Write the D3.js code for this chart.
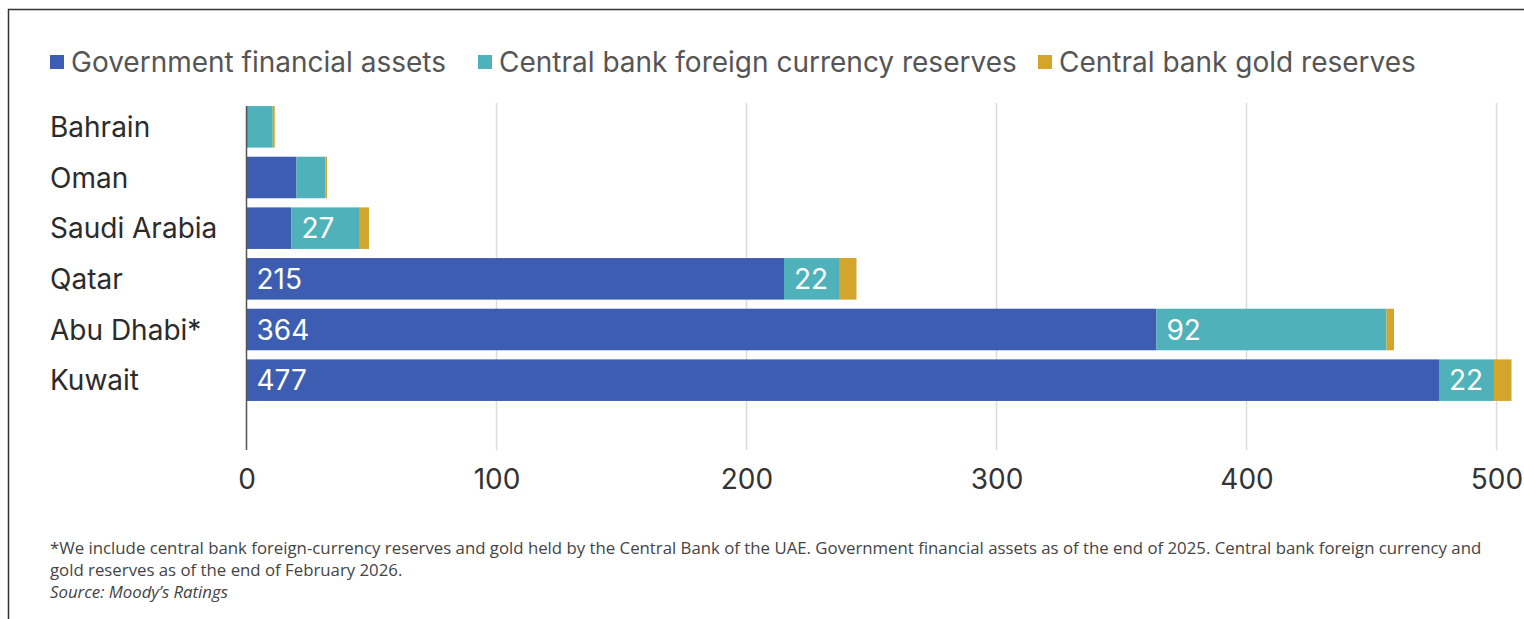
<!DOCTYPE html>
<html>
<head>
<meta charset="utf-8">
<script src="https://cdn.jsdelivr.net/npm/d3@7"></script>
<style>
  body { margin: 0; background: #fff; }
  svg { display: block; }
</style>
</head>
<body>
<div id="chart-area"></div>
<script>
// Data (USD billions)
const countries = ["Bahrain", "Oman", "Saudi Arabia", "Qatar", "Abu Dhabi*", "Kuwait"];
const govAssets = [0.5, 20, 18, 215, 364, 477];
const fxReserves = [10, 11.5, 27, 22, 92, 22];
const goldReserves = [0.8, 0.7, 4, 7, 3, 7];
const seriesNames = ["Government financial assets", "Central bank foreign currency reserves", "Central bank gold reserves"];
const tickValues = [0, 100, 200, 300, 400, 500];
const footnotes = [
  "*We include central bank foreign-currency reserves and gold held by the Central Bank of the UAE. Government financial assets as of the end of 2025. Central bank foreign currency and",
  "gold reserves as of the end of February 2026."
];
const sourceText = "Source: Moody\u2019s Ratings";

const colors = ["#3c5db1", "#4fb2bb", "#d3a52a"];
const W = 1524, H = 619;
const labelFont = "Inter, 'Noto Sans', sans-serif";

const svg = d3.select("#chart-area").append("svg")
  .attr("width", W)
  .attr("height", H);

// frame (top + left rules)
svg.append("path")
  .attr("d", "M8.5," + H + " V9.5 H" + W)
  .attr("fill", "none")
  .attr("stroke", "#333")
  .attr("stroke-width", 1.5);

// scales
const x = d3.scaleLinear().domain([0, 500]).range([246.5, 1496.5]);
const y = d3.scaleBand().domain(countries).range([101.5, 405.5])
  .paddingInner(0.18).paddingOuter(0.09);

// rows for the stack
const rows = countries.map((c, i) => ({
  country: c,
  gov: govAssets[i],
  fx: fxReserves[i],
  gold: goldReserves[i]
}));
const keys = ["gov", "fx", "gold"];
const stacked = d3.stack().keys(keys)(rows);

// grid
const gridTop = 103, gridBottom = 450;
svg.append("g")
  .selectAll("line")
  .data(tickValues.slice(1))
  .join("line")
    .attr("x1", d => x(d)).attr("x2", d => x(d))
    .attr("y1", gridTop).attr("y2", gridBottom)
    .attr("stroke", "#dcdcdc")
    .attr("stroke-width", 1.5);

// x axis labels
const xAxis = d3.axisBottom(x).tickValues(tickValues).tickSize(0).tickPadding(0);
const xAxisGroup = svg.append("g")
  .attr("transform", "translate(0," + 469 + ")")
  .call(xAxis);
xAxisGroup.select(".domain").remove();
xAxisGroup.selectAll("text")
  .attr("dy", "0.71em")
  .attr("font-family", labelFont)
  .attr("font-size", "28px")
  .attr("fill", "#333");

// bars
const layer = svg.append("g")
  .selectAll("g")
  .data(stacked)
  .join("g")
    .attr("fill", (d, i) => colors[i]);

layer.selectAll("rect")
  .data(d => d)
  .join("rect")
    .attr("x", d => x(d[0]))
    .attr("y", d => y(d.data.country))
    .attr("width", d => x(d[1]) - x(d[0]))
    .attr("height", y.bandwidth());

// value labels inside big segments
layer.selectAll("text")
  .data(d => d.filter(s => s[1] - s[0] >= 21))
  .join("text")
    .attr("x", d => x(d[0]) + 10)
    .attr("y", d => y(d.data.country) + y.bandwidth() / 2)
    .attr("dy", "0.36em")
    .attr("fill", "#fff")
    .attr("font-family", labelFont)
    .attr("font-size", "28px")
    .text(d => Math.round(d[1] - d[0]));

// y axis line
svg.append("line")
  .attr("x1", x(0)).attr("x2", x(0))
  .attr("y1", 106).attr("y2", gridBottom)
  .attr("stroke", "#555")
  .attr("stroke-width", 1.5);

// category labels
svg.append("g")
  .selectAll("text")
  .data(countries)
  .join("text")
    .attr("x", 50)
    .attr("y", d => y(d) + y.bandwidth() / 2)
    .attr("dy", "0.36em")
    .attr("font-family", labelFont)
    .attr("font-size", "28px")
    .attr("fill", "#2b2b2b")
    .text(d => d);

// legend
const legendX = [50, 478, 1038];
const legend = svg.append("g");
seriesNames.forEach((name, i) => {
  const row = legend.append("g")
    .attr("transform", `translate(${legendX[i]}, 62)`);
  row.append("rect")
    .attr("x", 0).attr("y", -7)
    .attr("width", 14).attr("height", 14)
    .attr("fill", colors[i]);
  row.append("text")
    .attr("x", 21)
    .attr("dy", "0.36em")
    .attr("font-family", labelFont)
    .attr("font-size", "28px")
    .attr("fill", "#555")
    .text(name);
});

// footnote
const note = svg.append("g")
  .attr("font-family", "'Open Sans', sans-serif")
  .attr("font-size", "16.8px")
  .attr("fill", "#444");
footnotes.forEach((t, i) => {
  note.append("text")
    .attr("x", 50)
    .attr("y", 554 + i * 22)
    .text(t);
});
note.append("text")
  .attr("x", 50)
  .attr("y", 598)
  .attr("font-style", "italic")
  .text(sourceText);
</script>
</body>
</html>
